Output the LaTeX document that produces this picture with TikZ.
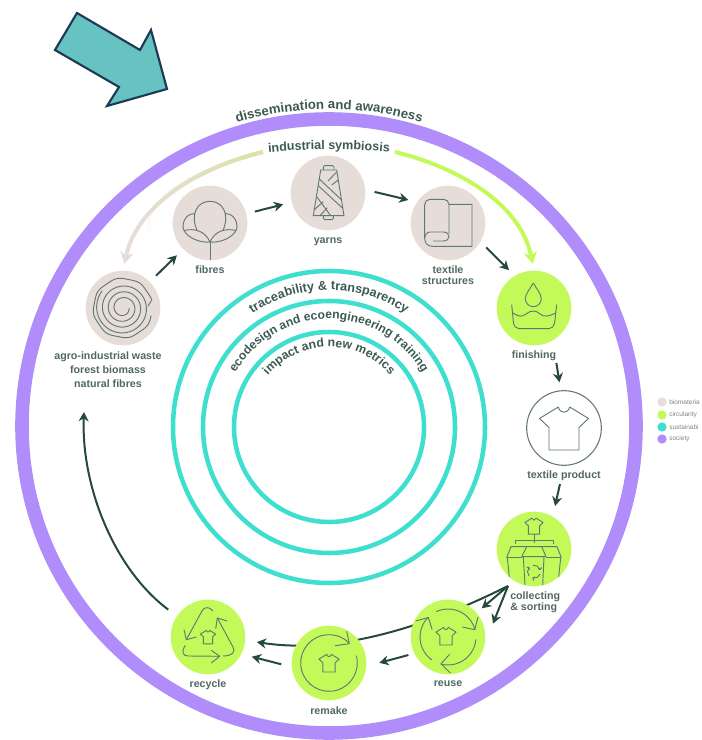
\documentclass[tikz,border=0pt]{standalone}
\usepackage{fontspec}
\setmainfont{Liberation Sans}
\usetikzlibrary{arrows.meta,decorations.text,fadings,positioning}

\definecolor{RingPurple}{HTML}{B18CFB}
\definecolor{RingTeal}{HTML}{3FDFD0}
\definecolor{Lime}{HTML}{C3FA5A}
\definecolor{Tan}{HTML}{E6DDD8}
\definecolor{Olive}{HTML}{DCE3A0}
\definecolor{DarkGreen}{HTML}{26483F}
\definecolor{TextGreen}{HTML}{50695F}
\definecolor{IconLine}{HTML}{627872}
\definecolor{ArrowTeal}{HTML}{66C3C1}
\definecolor{ArrowEdge}{HTML}{1D3A55}

\newcommand*{\ringfont}[1]{\fontsize{#1}{11}\selectfont\bfseries\color{DarkGreen!90!white}}

\tikzset{
	shirt/.pic={
		\draw[iconsty] (-5.7,21) -- (-24.5,9.5) -- (-15,0.5) -- (-15,-22) -- (15,-22)
			-- (15,0.5) -- (24.5,9.5) -- (5.7,21) .. controls (4,14) and (-4,14) .. cycle;
	}
}

\begin{document}
\begin{tikzpicture}[x=0.75pt,y=0.75pt]
		\tikzstyle{iconsty}=[draw=IconLine,line width=0.7pt,line join=round]
		\tikzstyle{flowsty}=[draw=DarkGreen,line width=1.5pt,-{Stealth[length=7pt,width=7.5pt]}]
		\tikzstyle{symbsty}=[line width=3pt,-{Stealth[length=9pt,width=10pt]}]
		\tikzstyle{ringtext}=[decorate,decoration={text along path,text align=center,text={#1}}]

		\edef\sizecirc{56pt}
		\tikzstyle{biocirc}=[circle,fill=Tan,minimum size=\sizecirc,inner sep=0pt]
		\tikzstyle{circcirc}=[circle,fill=Lime,minimum size=\sizecirc,inner sep=0pt]
		\tikzstyle{prodcirc}=[circle,draw=IconLine,fill=white,line width=0.8pt,minimum size=\sizecirc,inner sep=0pt]
		\tikzstyle{stagelabel}=[inner sep=0pt,align=center,text=TextGreen,font=\fontsize{8}{8.4}\selectfont\bfseries]
		\tikzstyle{legdot}=[circle,minimum size=7pt,inner sep=0pt]
		\tikzstyle{legtext}=[inner sep=0pt,anchor=west,text=gray,font=\fontsize{4.9}{6}\selectfont]

\useasboundingbox (0,0) rectangle (702,740);

% big arrow
\draw[fill=ArrowTeal,draw=ArrowEdge,line width=1.6pt,line join=miter]
	(77,727) -- (55,690) -- (119,653) -- (107,634) -- (167,651) -- (151,710) -- (140,690) -- cycle;

% Rings
\draw[RingPurple,line width=10.2pt] (329,314) circle (307);
\draw[RingTeal,line width=3.4pt] (329,313) circle (156);
\draw[RingTeal,line width=3.4pt] (329,313) circle (126);
\draw[RingTeal,line width=3.4pt] (329,313) circle (95);

% Ring labels
\path[ringtext={|\ringfont{9.9}|dissemination and awareness}] [shift={(329,314)}] (120:317) arc (120:60:317);
\path[ringtext={|\ringfont{9.4}|industrial symbiosis}] (255,586) .. controls (300,592) and (358,592) .. (403,586);
\path[ringtext={|\ringfont{9.5}|traceability {\&} transparency}] [shift={(329,313)}] (140:137) arc (140:40:137);
\path[ringtext={|\ringfont{9.1}|ecodesign and ecoengineering training}] [shift={(329,313)}] (170:108) arc (170:10:108);
\path[ringtext={|\ringfont{9.2}|impact and new metrics}] [shift={(329,313)}] (160:80) arc (160:20:80);

% Stages
\node[biocirc] (wood) at (123,432) {};
\node[biocirc] (fibres) at (210,517) {};
\node[biocirc] (yarns) at (328,547) {};
\node[biocirc] (structures) at (448,517) {};
\node[circcirc] (finishing) at (534,432) {};
\node[prodcirc] (product) at (564,312) {};
\node[circcirc] (collecting) at (534,191) {};
\node[circcirc] (recycle) at (208,103) {};

\coordinate (collectsplit) at (508,154);
\coordinate (woodend) at (84,328);
\coordinate (symbleft) at (263,588);
\coordinate (symbright) at (395,588);

% this one runs behind reuse and remake
\draw[flowsty,shorten >=8.6pt] (collectsplit) .. controls (430,115) and (340,85) .. (recycle.-5);

\node[circcirc] (reuse) at (448,103) {};
\node[circcirc] (remake) at (329,77) {};

\node[stagelabel] (woodlabel) at (108,370) {agro-industrial waste\\[2pt]forest biomass\\[2pt]natural fibres};
\node[stagelabel,below=3.5pt of fibres] (fibreslabel) {fibres};
\node[stagelabel,below=5.5pt of yarns] (yarnslabel) {yarns};
\node[stagelabel,below=3.5pt of structures] (structureslabel) {textile\\structures};
\node[stagelabel,below=3.5pt of finishing] (finishinglabel) {finishing};
\node[stagelabel,below=3.5pt of product] (productlabel) {textile product};
\node[stagelabel,align=left,anchor=west] (collectinglabel) at (510,137.5) {collecting\\\&~sorting};
\node[stagelabel,below=4.5pt of reuse] (reuselabel) {reuse};
\node[stagelabel,below=4.5pt of remake] (remakelabel) {remake};
\node[stagelabel,below=4pt of recycle] (recyclelabel) {recycle};

% Connectors
\draw[flowsty,shorten <=6.5pt,shorten >=6.5pt] (wood) -- (fibres);
\draw[flowsty,shorten <=6.5pt,shorten >=6.5pt] (fibres) -- (yarns);
\draw[flowsty,shorten <=7pt,shorten >=6.5pt] (yarns.5) -- (structures.146);
\draw[flowsty,shorten <=6pt,shorten >=6pt] (structures.-30) -- (finishing.121);
\draw[flowsty,shorten <=17pt,shorten >=6pt] (finishing.-60) -- (product.95);
\draw[flowsty,shorten <=14pt,shorten >=8pt] (product.-90) -- (collecting.60);
\draw[flowsty,shorten >=5pt] (collectsplit) -- (reuse);
\draw[flowsty,shorten >=16pt] (collectsplit) -- (reuse.-10);
\draw[flowsty,shorten <=4.5pt,shorten >=10pt] (reuse.-154) -- (remake.-5.5);
\draw[flowsty,shorten <=8pt,shorten >=8pt] (remake.-174) -- (recycle.-27.5);
\draw[flowsty,shorten <=8pt] (recycle.146) .. controls (115,170) and (81,253) .. (woodend);
\draw[symbsty,draw=Tan,shorten >=5pt] (symbleft) .. controls (208,575) and (138,540) .. (wood.90);
\draw[line width=3pt,draw=Olive,path fading=west] (symbleft) .. controls (208,575) and (138,540) .. (150,510);
\draw[symbsty,draw=Lime,shorten >=5pt] (symbright) .. controls (450,575) and (520,540) .. (finishing.90);

% wood
\begin{scope}[shift={(wood)}]
	\draw[iconsty] plot[smooth,domain=0:1300,samples=260] ({-\x}:{6+\x/62+0.0000005*\x*\x*sin(6*\x)});
	\draw[iconsty] plot[smooth,domain=15:345,samples=120] ({\x}:{29.5+0.5*sin(8*\x)});
	\draw[iconsty] (15:29.5) -- (4:25);
\end{scope}

% fibres
\begin{scope}[shift={(fibres)}]
	\draw[iconsty] (-13.3,-6.7) .. controls (-20,10) and (-12,21.7) .. (0,21.7)
		.. controls (12,21.7) and (20,10) .. (13.3,-6.7);
	\draw[iconsty] (-15,9.3) .. controls (-25,10) and (-29,-2) .. (-26,-7.5)
		.. controls (-22,-15) and (-10,-20) .. (0,-19) .. controls (-5,-8) and (-15,-5) .. (-26,-7.5);
	\draw[iconsty] (15,9.3) .. controls (25,10) and (29,-2) .. (26,-7.5)
		.. controls (22,-15) and (10,-20) .. (0,-19) .. controls (5,-8) and (15,-5) .. (26,-7.5);
	\draw[iconsty] (0,-19) -- (0,-37);
\end{scope}

% yarns
\begin{scope}[shift={(yarns)}]
	\draw[iconsty] (-7.3,23) -- (8.7,23) -- (16,-22.7) -- (-14.7,-22.7) -- cycle;
	\draw[iconsty,rounded corners=1pt] (-4.7,23) -- (-4.7,27.3) -- (6,27.3) -- (6,23);
	\draw[iconsty,rounded corners=1pt] (-4.7,-22.7) -- (-4.7,-26.7) -- (5.3,-26.7) -- (5.3,-22.7);
	\draw[iconsty] (-8.7,14) -- (13.7,-7);
	\draw[iconsty] (-9.7,7.3) -- (14.7,-15.3);
	\draw[iconsty] (-11.3,-3.7) -- (2.7,-22.7);
	\draw[iconsty] (0,12) -- (8.7,21);
	\draw[iconsty] (3.7,8) -- (10.3,13);
	\draw[iconsty] (-14,-17) -- (-4.7,-8.7);
	\draw[iconsty] (-8,-22.7) -- (-0.7,-14.7);
\end{scope}

% structures
\begin{scope}[shift={(structures)}]
	\draw[iconsty,rounded corners=4pt] (1,-11) -- (1,23.7) -- (-23.3,23.7) -- (-23.3,-15);
	\draw[iconsty] (1,18.7) -- (24,18.7) -- (24,-23.3) -- (-16,-23.3)
		.. controls (-21,-23.3) and (-23.3,-19) .. (-23.3,-15.7)
		.. controls (-23.3,-12) and (-21,-9) .. (-18,-9) -- (-5,-9)
		.. controls (-1,-9) and (1,-11) .. (1,-13.5) .. controls (1,-16) and (-1,-18) .. (-5,-18) -- (-15,-18);
\end{scope}

% finishing
\begin{scope}[shift={(finishing)}]
	\draw[iconsty] (-0.7,25) .. controls (-4,19) and (-8.7,14) .. (-8.7,9.3)
		arc (180:360:8) .. controls (7.3,14) and (2.6,19) .. (-0.7,25);
	\draw[iconsty,rounded corners=4pt] (-22.3,3.3) -- (-20,-20.7) -- (20,-20.7) -- (22.7,3.3);
	\draw[iconsty] (-21,-5) .. controls (-15,-9) and (-12,-9) .. (-8,-6)
		.. controls (-3,-2) and (2,-2) .. (6,-6) .. controls (10,-9) and (14,-9) .. (21.7,-5);
\end{scope}

% product
\pic[scale=1] at (product) {shirt};

% collecting
\begin{scope}[shift={(collecting)}]
	\pic[scale=0.37] at (0,23) {shirt};
	\draw[iconsty] (0,15) -- (0,5.7);
	\draw[iconsty] (-19,5) -- (-19,9) -- (19.3,9) -- (19.3,5);
	\draw[iconsty] (-12.3,-7.7) -- (-7.3,2.3) -- (7.7,2.3) -- (12,-7.7) -- cycle;
	\draw[iconsty] (-10.7,-7.7) -- (-9,-36);
	\draw[iconsty] (10,-7.7) -- (8.7,-36);
	\draw[iconsty] (-7.3,2.3) -- (-23,2.3) -- (-27.3,-8.5) -- (-12,-8.5);
	\draw[iconsty] (7.7,2.3) -- (23,2.3) -- (27.3,-8.5) -- (12,-8.5);
	\draw[iconsty] (-26.7,-8.5) -- (-24.7,-28);
	\draw[iconsty] (26.7,-8.5) -- (24.7,-28);
	\foreach \rr in {0,120,240} {
		\draw[iconsty,shift={(0,-22.7)},rotate=\rr] (100:6.5) arc (100:20:6.5);
		\draw[iconsty,shift={(0,-22.7)},rotate=\rr] (7.8,4.2) -- (6.1,2.2) -- (3.9,3.2);
	}
\end{scope}

% reuse
\begin{scope}[shift={(reuse)}]
	\pic[scale=0.41] at (-2,1) {shirt};
	\foreach \rr in {0,120,240} {
		\draw[iconsty,rotate=\rr] (115:28) arc (115:15:28);
		\draw[iconsty,rotate=\rr] (30,20) -- (26.7,7.3) -- (14.3,10);
	}
\end{scope}

% remake
\begin{scope}[shift={(remake)}]
	\pic[scale=0.41] at (0,0) {shirt};
	\draw[iconsty] (15:28.3) arc (15:-315:28.3);
	\draw[iconsty] (17.7,31.7) -- (20.3,19.3) -- (6,17.3);
\end{scope}

% recycle
\begin{scope}[shift={(recycle)}]
	\pic[scale=0.31] at (0,0) {shirt};
	\draw[iconsty] (5,26) .. controls (1,31) and (-4,30) .. (-6,26) -- (-21.7,-2.7);
	\draw[iconsty] (-24,7.3) -- (-21.7,-2.7) -- (-11.7,0);
	\draw[iconsty] (9.3,19) -- (25,-10) .. controls (28,-15) and (24,-19) .. (15,-19);
	\draw[iconsty] (19,16) -- (9.3,19) -- (7.7,8.3);
	\draw[iconsty] (-22.7,-8.3) .. controls (-27,-15) and (-25,-19) .. (-20,-19) -- (11.7,-19.3);
	\draw[iconsty] (3.3,-13.3) -- (11.7,-19.3) -- (3.3,-26);
\end{scope}

% Legend
\node[legdot,fill=Tan] (legbio) at (662,338) {};
\node[legdot,fill=Lime] (legcirc) at (662,325) {};
\node[legdot,fill=RingTeal] (legsust) at (662,313) {};
\node[legdot,fill=RingPurple] (legsoc) at (662,301) {};
\node[legtext] (legbiotext) at (669,338) {biomateria};
\node[legtext] (legcirctext) at (669,325) {circularity};
\node[legtext] (legsusttext) at (669,313) {sustainabi};
\node[legtext] (legsoctext) at (669,301) {society};

\end{tikzpicture}
\end{document}
